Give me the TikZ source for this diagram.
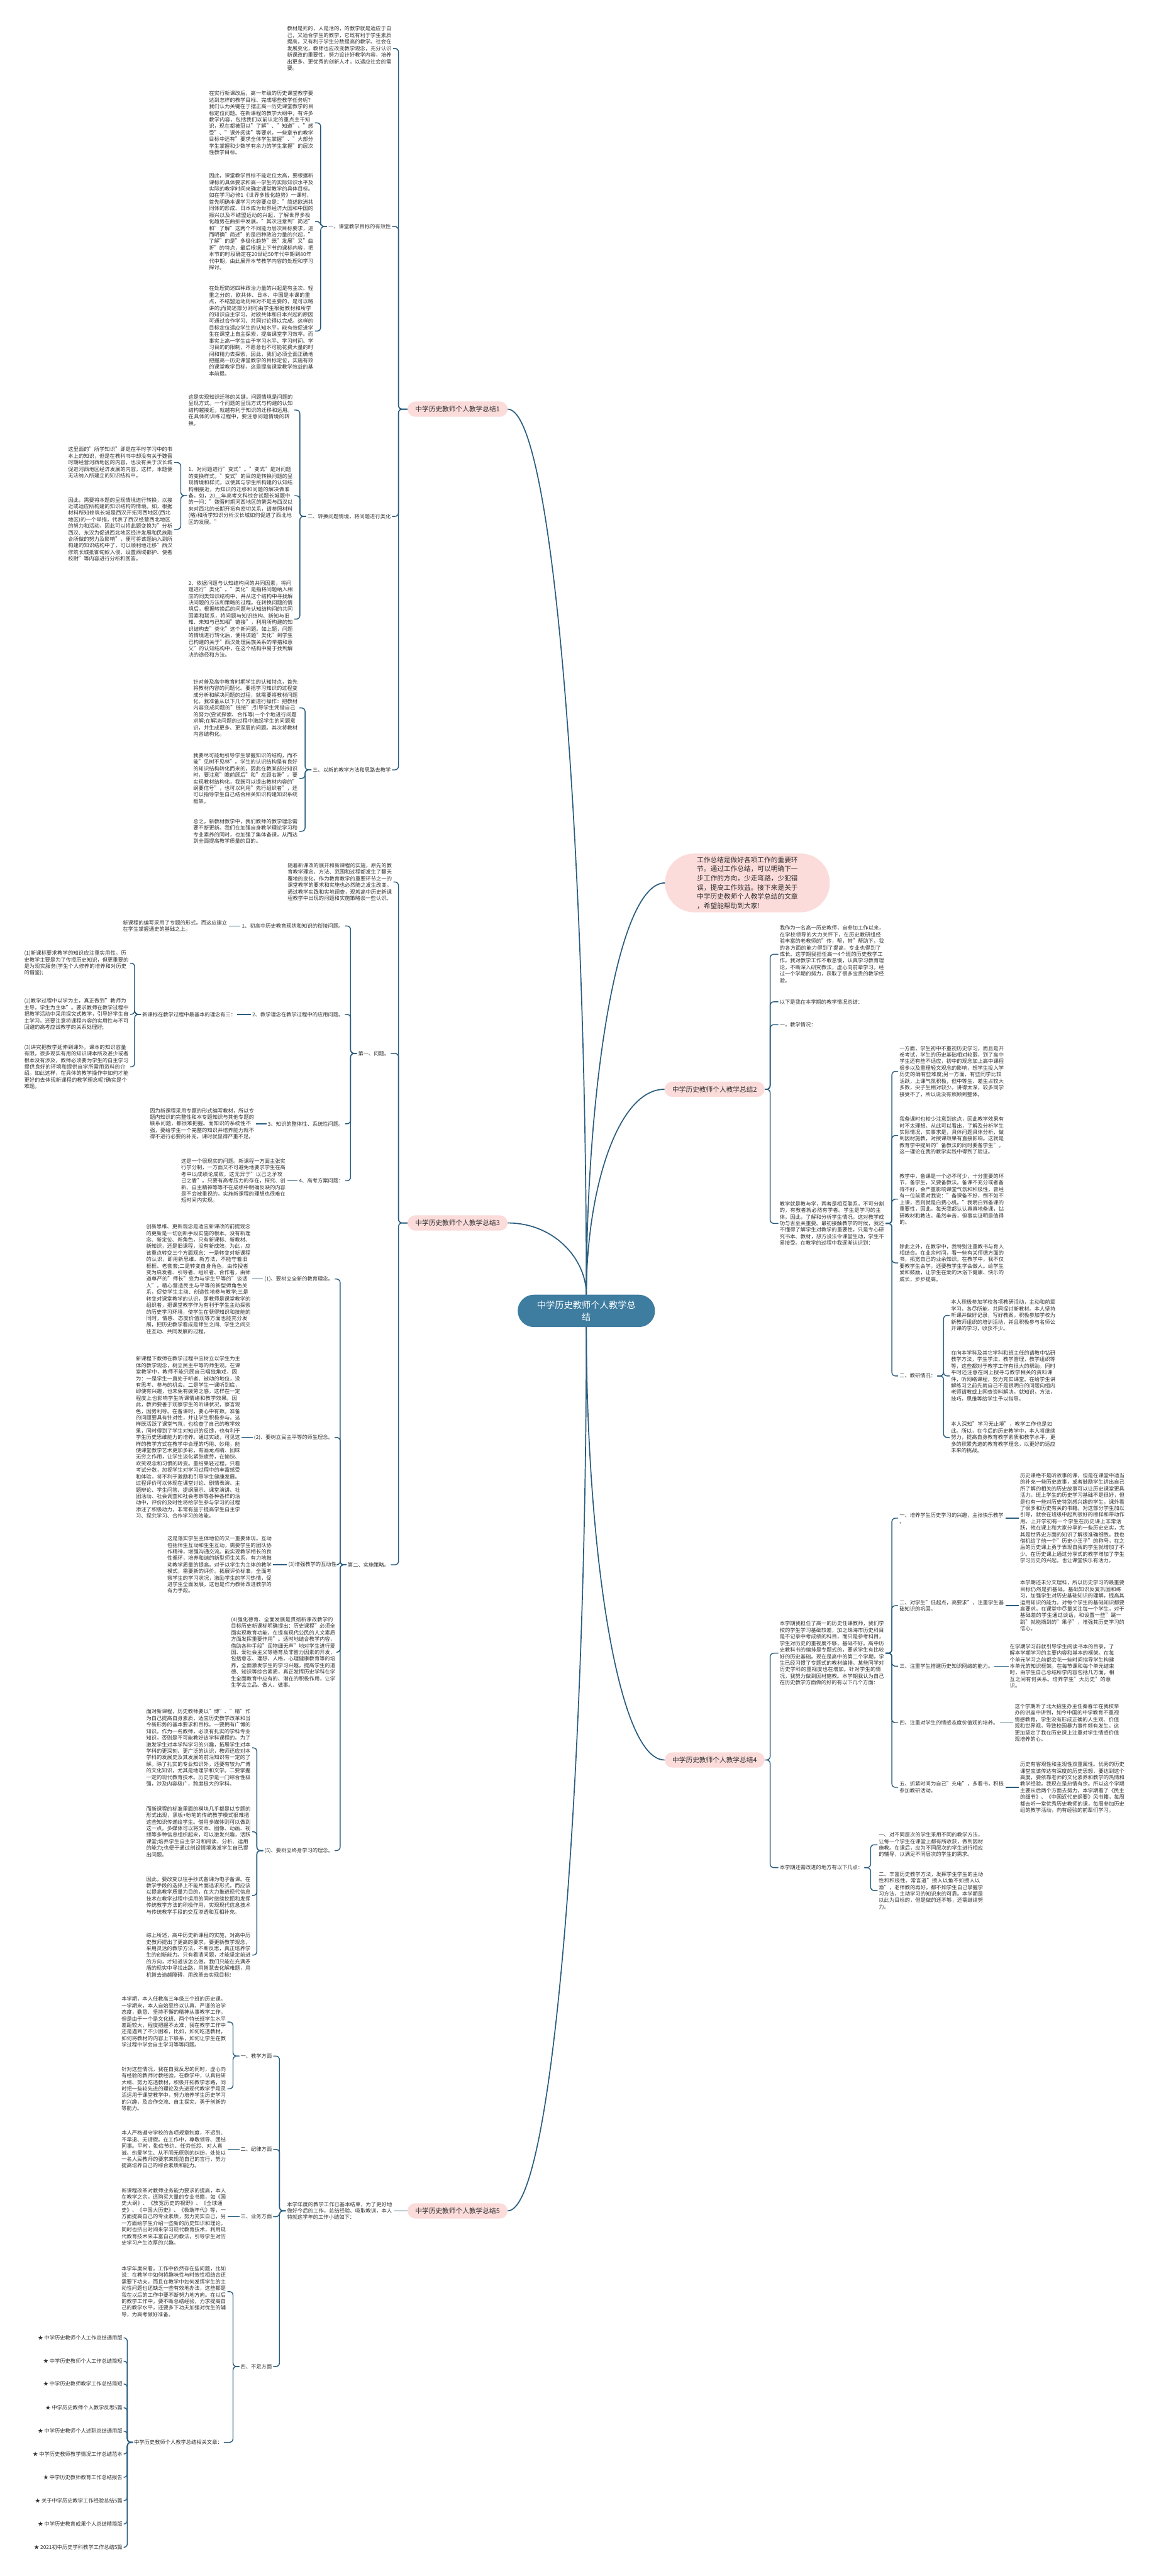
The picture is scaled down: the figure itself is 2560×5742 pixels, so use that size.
\documentclass[tikz,border=0pt]{standalone}
\usepackage{fontspec}
\setmainfont{Noto Sans CJK SC}
\XeTeXlinebreaklocale "zh"
\XeTeXlinebreakskip=0pt plus 1pt
\definecolor{lc}{RGB}{42,93,126}
\definecolor{pk}{RGB}{251,220,218}
\definecolor{cb}{RGB}{62,124,160}
\definecolor{tc}{RGB}{48,48,48}
\tikzset{
  conn/.style={draw=lc, line width=2pt, rounded corners=8pt},
  mainc/.style={draw=lc, line width=2.4pt},
  body/.style={font=\fontsize{11.6}{14.6}\selectfont, text=tc, text width=233pt, align=left, inner sep=0pt, outer sep=3pt},
  lab/.style={font=\fontsize{11.6}{14.6}\selectfont, text=tc, inner sep=0pt, outer sep=3pt},
  bnode/.style={fill=pk, rounded corners=17pt, minimum width=223pt, minimum height=34pt, font=\fontsize{15}{18}\selectfont, text=tc, inner sep=0pt},
  cnode/.style={fill=cb, rounded corners=36pt, minimum width=306pt, minimum height=72pt, text=white, font=\fontsize{20}{26}\selectfont, align=center, inner sep=0pt},
  inode/.style={fill=pk, rounded corners=65pt, minimum width=367pt, minimum height=131pt, text=tc, font=\fontsize{15}{20.5}\selectfont, align=left, inner sep=0pt}
}
\newcommand\bR[3]{\draw[conn] (#1.east) -- ++(#3,0) |- (#2.west);}
\newcommand\bL[3]{\draw[conn] (#1.west) -- ++(-#3,0) |- (#2.east);}
\begin{document}
\begin{tikzpicture}[x=1pt,y=-1pt]
\useasboundingbox (0,0) rectangle (2560,5742);
\fill[white] (0,0) rectangle (2560,5742);
% central and main branches
\node[cnode] (cen) at (1307,2922) {中学历史教师个人教学总\\结};
\node[inode] (intro) at (1666,1968) {工作总结是做好各项工作的重要环\\节。通过工作总结，可以明确下一\\步工作的方向，少走弯路，少犯错\\误，提高工作效益。接下来是关于\\中学历史教师个人教学总结的文章\\，希望能帮助到大家!};
\node[bnode] (b1) at (1020,912) {中学历史教师个人教学总结1};
\node[bnode] (b2) at (1593,2428) {中学历史教师个人教学总结2};
\node[bnode] (b3) at (1020,2726) {中学历史教师个人教学总结3};
\node[bnode] (b4) at (1593,3923) {中学历史教师个人教学总结4};
\node[bnode] (b5) at (1020,4928) {中学历史教师个人教学总结5};
\draw[mainc] (cen.north) .. controls (1307,2427) and (1376,1968) .. (intro.west);
\draw[mainc] (cen.north) .. controls (1307,1899) and (1235,912) .. (b1.east);
\draw[mainc] (cen.north) .. controls (1307,2657) and (1375,2428) .. (b2.west);
\draw[mainc] (cen.north) .. controls (1307,2806) and (1235,2726) .. (b3.east);
\draw[mainc] (cen.south) .. controls (1307,3440) and (1375,3923) .. (b4.west);
\draw[mainc] (cen.south) .. controls (1307,3943) and (1235,4928) .. (b5.east);

% ================= Branch 1 =================
\node[body, anchor=east] (a1) at (876,108) {教材是死的，人是活的，的教学就是适应于自己，又适合学生的教学，它既有利于学生素质提高，又有利于学生分数提高的教学。社会在发展变化，教师也应改变教学观念，充分认识新课改的重要性，努力设计好教学内容，培养出更多、更优秀的创新人才，以适应社会的需要。};
\node[lab, anchor=east] (a2) at (874,505) {一、课堂教学目标的有效性};
\node[body, anchor=east] (a2a) at (702,274) {在实行新课改后，高一年级的历史课堂教学要达到怎样的教学目标、完成哪些教学任务呢？我们认为关键在于摆正高一历史课堂教学的目标定位问题。在新课程的教学大纲中，有许多教学内容，包括我们以前认定的重点主干知识，现在都被冠以"了解"、"知道"、"感受"、"课外阅读"等要求，一些章节的教学目标中还有"要求全体学生掌握"、"大部分学生掌握和少数学有余力的学生掌握"的层次性教学目标。};
\node[body, anchor=east] (a2b) at (702,494) {因此，课堂教学目标不能定位太高，要根据新课标的具体要求和高一学生的实际知识水平及实际的教学时间来确定课堂教学的具体目标。如在学习必修1《世界多极化趋势》一课时，首先明确本课学习内容要点是："简述欧洲共同体的形成、日本成为世界经济大国和中国的振兴以及不结盟运动的兴起，了解世界多极化趋势在曲折中发展。"其次注意到"简述"和"了解"这两个不同能力层次目标要求，进而明确"简述"的是四种政治力量的兴起，"了解"的是"多极化趋势"既"发展"又"曲折"的特点，最后根据上下节的课标内容，把本节的时段确定在20世纪50年代中期到80年代中期，由此展开本节教学内容的处理和学习探讨。};
\node[body, anchor=east] (a2c) at (702,738) {在处理简述四种政治力量的兴起是有主次、轻重之分的，欧共体、日本、中国是本课的重点，不结盟运动则相对不是主要的，是可以略讲的;而简述部分则可由学生根据教材和所学的知识自主学习。对欧共体和日本兴起的原因可通过合作学习、共同讨论得以完成。这样的目标定位适应学生的认知水平，能有效促进学生在课堂上自主探索，提高课堂学习效率。而事实上高一学生由于学习水平、学习时间、学习目的的限制，不愿意也不可能花费大量的时间和精力去探索，因此，我们必须全面正确地把握高一历史课堂教学的目标定位，实施有效的课堂教学目标，这是提高课堂教学效益的基本前提。};
\node[lab, anchor=east] (a3) at (874,1151) {二、转换问题情境，将问题进行类化};
\node[body, anchor=east] (a3a) at (656,914) {这是实现知识迁移的关键。问题情境是问题的呈现方式。一个问题的呈现方式与构建的认知结构越接近，就越有利于知识的迁移和运用。在具体的训练过程中，要注意问题情境的转换。};
\node[body, anchor=east] (a3b) at (656,1105) {1、对问题进行"变式"。"变式"是对问题的变换样式，"变式"的目的是转换问题的呈现情境和样式，以使其与学生所构建的认知结构相接近，为知识的迁移和问题的解决做准备。如，20\_\_年高考文科综合试题长城题中的一问："魏晋时期河西地区的繁荣与西汉以来对西北的长期开拓有密切关系，请参照材料(略)和所学知识分析汉长城如何促进了西北地区的发展。"};
\node[body, anchor=east] (a3b1) at (388,1031) {这里面的"所学知识"即是在平时学习中的书本上的知识，但是在教科书中却没有关于魏晋时期经营河西地区的内容，也没有关于汉长城促进河西地区经济发展的内容，这样，本题便无法纳入所建立的知识结构中。};
\node[body, anchor=east] (a3b2) at (388,1180) {因此，需要将本题的呈现情境进行转换，以接近或适应所构建的知识结构的情境。如，根据材料所知修筑长城是西汉开拓河西地区(西北地区)的一个举措，代表了西汉经营西北地区的努力和活动，因此可以将此题变换为"分析西汉、东汉为促进西北地区经济发展和民族融合所做的努力及影响"，便可将该题纳入到所构建的知识结构中了，可以顺利地迁移"西汉修筑长城抵御匈奴入侵、设置西域都护、使者校尉"等内容进行分析和回答。};
\node[body, anchor=east] (a3c) at (656,1380) {2、依据问题与认知结构间的共同因素，将问题进行"类化"。"类化"是指将问题纳入相应的同类知识结构中，并从这个结构中寻找解决问题的方法和策略的过程。在转换问题的情境后，根据转换后的问题与认知结构间的共同因素和联系，将问题与知识结构、新知与旧知、未知与已知相"链接"，利用所构建的知识结构去"类化"这个新问题。如上题，问题的情境进行转化后，便将该题"类化"到学生已构建的关于"西汉处理民族关系的举措和意义"的认知结构中，在这个结构中易于找到解决的途径和方法。};
\node[lab, anchor=east] (a4) at (874,1716) {三、以新的教学方法和思路去教学};
\node[body, anchor=east] (a4a) at (667,1578) {针对普及高中教育时期学生的认知特点，首先将教材内容的问题化。要把学习知识的过程变成分析和解决问题的过程，就需要将教材问题化。我准备从以下几个方面进行操作：把教材内容变成问题的"链接";引导学生凭借自己的努力(尝试探索、合作等)一个个地进行问题求解;在解决问题的过程中激起学生的问题意识，并生成更多、更深层的问题。其次将教材内容结构化。};
\node[body, anchor=east] (a4b) at (667,1735) {我要尽可能地引导学生掌握知识的结构，而不能"见树不见林"。学生的认识结构是有良好的知识结构转化而来的，因此在教某部分知识时，要注意"瞻前顾后"和"左顾右盼"。要实现教材结构化，我既可以提出教材内容的"纲要信号"，也可以利用"先行组织者"，还可以指导学生自己结合相关知识构建知识系统框架。};
\node[body, anchor=east] (a4c) at (667,1853) {总之，新教材教学中，我们教师的教学理念需要不断更新。我们在加强自身教学理论学习和专业素养的同时，也加强了集体备课，从而达到全面提高教学质量的目的。};
\foreach \c in {a1,a2,a3,a4}{\bL{b1}{\c}{20}}
\foreach \c in {a2a,a2b,a2c}{\bL{a2}{\c}{14}}
\foreach \c in {a3a,a3b,a3c}{\bL{a3}{\c}{14}}
\foreach \c in {a3b1,a3b2}{\bL{a3b}{\c}{14}}
\foreach \c in {a4a,a4b,a4c}{\bL{a4}{\c}{14}}

% ================= Branch 3 =================
\node[body, anchor=east] (c1) at (877,1966) {随着新课改的展开和新课程的实施，原先的教育教学理念、方法、范围和过程都发生了翻天覆地的变化，作为教育教学的重要环节之一的课堂教学的要求和实施也必然随之发生改变。通过教学实践和实地调查，现就高中历史新课程教学中出现的问题和实施策略谈一些认识。};
\node[lab, anchor=east] (c2) at (871,2348) {第一、问题。};
\node[lab, anchor=east] (c21) at (769,2064) {1、初高中历史教育现状和知识的衔接问题。};
\node[body, anchor=east] (c21a) at (510,2064) {新课程的编写采用了专题的形式。而这应建立在学生掌握通史的基础之上。};
\node[lab, anchor=east] (c22) at (769,2261) {2、教学理念在教学过程中的应用问题。};
\node[lab, anchor=east] (c22a) at (529,2261) {新课标在教学过程中最基本的理念有三：};
\node[body, anchor=east] (c22a1) at (290,2147) {(1)新课标要求教学的知识应注重实用性。历史教学主要是为了传授历史知识，但更重要的是为现实服务(学生个人修养的培养和对历史的借鉴);};
\node[body, anchor=east] (c22a2) at (290,2261) {(2)教学过程中以学为主，真正做到"教师为主导，学生为主体"。要求教师在教学过程中把教学活动中采用探究式教学，引导好学生自主学习。还要注意将课程内容的实用性与不可回避的高考应试教学的关系处理好;};
\node[body, anchor=east] (c22a3) at (290,2378) {(3)讲究把教学延伸到课外。课本的知识容量有限，很多现实有用的知识课本所及甚少或者根本没有涉及，教师必须要为学生的自主学习提供良好的环境和提供自学所需用资料的介绍。如此这样，在具体的教学操作中如何才能更好的去体现新课程的教学理念呢?确实是个难题。};
\node[lab, anchor=east] (c23) at (769,2505) {3、知识的整体性、系统性问题。};
\node[body, anchor=east] (c23a) at (570,2505) {因为新课程采用专题的形式编写教材，所以专题内知识的完整性和本专题知识与其他专题的联系问题，都很难把握。而知识的系统性不强，要给学生一个完整的知识并培养能力就不得不进行必要的补充，课时就显得严重不足。};
\node[lab, anchor=east] (c24) at (769,2632) {4、高考方案问题：};
\node[body, anchor=east] (c24a) at (640,2632) {这是一个很现实的问题。新课程一方面主张实行学分制，一方面又不可避免地要求学生在高考中以成绩论成败，这无异于"以己之矛攻己之盾"。只要有高考压力的存在，探究、创新、自主精神等等不在成绩中明确反映的内容是不会被重视的，实施新课程的理想也很难在短时间内实现。};
\node[lab, anchor=east] (c3) at (871,3488) {第二、实施策略。};
\node[lab, anchor=east] (c31) at (746,2851) {(1)、要树立全新的教育理念。};
\node[body, anchor=east] (c31a) at (562,2851) {创新思维、更新观念是适应新课改的前提观念的更新是一切创新手段实施的根本。没有新理念、新定位、新角色，只有新课标、新教材、新知识，还是旧课程，没有新成效。为此，应该重点转变三个方面观念：一是转变对新课程的认识，即用新思维、新方法，不能守着旧框框、老套套;二是转变自身角色，由传授者变为启发者、引导者、组织者、合作者，由师道尊严的"师长"变为与学生平等的"谈话人"，精心营造民主与平等的新型师角色关系，促使学生主动、创造性地参与教学;三是转变对课堂教学的认识，即教师是课堂教学的组织者，把课堂教学作为有利于学生主动探索的历史学习环境，使学生在获得知识和技能的同时，情感、态度价值观等方面也能充分发展，把历史教学看成是师生之间、学生之间交往互动、共同发展的过程。};
\node[lab, anchor=east] (c32) at (746,3204) {(2)、要树立民主平等的师生理念。};
\node[body, anchor=east] (c32a) at (539,3204) {新课程下教师在教学过程中应树立以学生为主体的教学观念，树立民主平等的师生观。在课堂教学中，教师不能只顾自己唱独角戏，因为：一是学生一直处于听者、被动的地位，没有思考、参与的机会。二是学生一课听到底，即使有兴趣，也未免有疲劳之感，这样在一定程度上也影响学生听课情绪和教学效果。因此，教师要善于观察学生的听课状况，察言观色，因势利导。在备课时，要心中有数。准备的问题要具有针对性，并让学生积极参与。这样既活跃了课堂气氛，也检查了自己的教学效果，同时得到了学生对知识的反馈，也有利于学生历史思维能力的培养。通过实践，可见这样的教学方式在教学中合理的巧用、妙用，能使课堂教学艺术更加多彩，有画龙点睛、回味无穷之作用，让学生淡化紧张疲劳，在愉快、欢笑观念和习惯的转变。重结果轻过程，只看考试分数，忽视学生对学习过程中的丰富感受和体验，将不利于激励和引导学生健康发展。过程评价可以体现在课堂讨论、剧情表演、主题辩论、学生问答、提纲展示、课堂演讲、社团活动、社会调查和社会考察等各种各样的活动中，评价的及时性将给学生参与学习的过程添注了积极动力，非常有益于提高学生自主学习、探究学习、合作学习的效能。};
\node[lab, anchor=east] (c33) at (753,3488) {(3)增强教学的互动性};
\node[body, anchor=east] (c33a) at (609,3488) {这是落实学生主体地位的又一重要体现。互动包括师生互动和生生互动，需要学生的团队协作精神，增强沟通交流。能实现教学相长的良性循环，培养和谐的新型师生关系，有力地推动教学质量的提高。对于以学生为主体的教学模式，需要新的评价。拓展评价标准，全面考察学生的学习状况，激励学生的学习热情，促进学生全面发展，这也是作为教师改进教学的有力手段。};
\node[body, anchor=east] (c34) at (751,3683) {(4)强化德育、全面发展是贯彻新课改教学的目标历史新课标明确提出：历史课程"必须全面实现教育功能，在提高现代公民的人文素质方面发挥重要作用"。适时地结合教学内容，借助各种手段"润物细无声"地对学生进行爱国、爱社会主义等德育及非智力因素的开发，包括意志、理想、人格，心理健康教育等的培养，全面激发学生的学习兴趣，提高学生的道德、知识等综合素质，真正发挥历史学科在学生全面教育中应有的、潜在的积极作用，让学生学会立品、做人、做事。};
\node[lab, anchor=east] (c35) at (746,4125) {(5)、要树立终身学习的理念。};
\node[body, anchor=east] (c35a) at (562,3896) {面对新课程，历史教师要以"博"、"精"作为自己提高自身素质，适应历史教学改革和当今新形势的基本要求和目标。一要拥有广博的知识。作为一名教师，必须有扎实的学科专业知识，否则是不可能教好该学科课程的。为了激发学生对本学科学习的兴趣，拓展学生对本学科的更深刻、更广泛的认识，教师还应对本学科的发展史及其发展的前沿知识有一定的了解。除了扎实的专业知识外，还要有较为广博的文化知识，尤其是地理学和文学。二要掌握一定的现代教育技术。历史学是一门综合性极强，涉及内容极广，跨度极大的学科。};
\node[body, anchor=east] (c35b) at (562,4083) {而新课程的标准里面的模块几乎都是以专题的形式出现，黑板+粉笔的传统教学模式很难把这些知识传递给学生。借用多媒体则可以做到这一点。多媒体可以将文本、图像、动画、视频等多种信息组织起来，可以激发兴趣，活跃课堂;培养学生自主学习和阅读、分析、运用的能力;也便于通过创设情境激发学生自已提出问题。};
\node[body, anchor=east] (c35c) at (562,4225) {因此，要改变以往手抄式备课为电子备课。在教学手段的选择上不能片面追求形式，而应该以提高教学质量为目的，在大力推进现代信息技术在教学过程中运用的同时继续挖掘和发挥传统教学方法的积极作用，实现现代信息技术与传统教学手段的交互渗透和互相补充。};
\node[body, anchor=east] (c35d) at (562,4358) {综上所述，高中历史新课程的实施，对高中历史教师提出了更高的要求。要更新教学观念，采用灵活的教学方法，不断反思，真正培养学生的创新能力。只有看清问题，才能坚定前进的方向，才知道该怎么做。我们只能在充满矛盾的现实中寻找出路，用智慧去化解难题，用机智去逾越障碍，用改革去实现目标!};
\foreach \c in {c1,c2,c3}{\bL{b3}{\c}{20}}
\foreach \c in {c21,c22,c23,c24}{\bL{c2}{\c}{14}}
\draw[conn] (c21.west) -- (c21a.east);
\draw[conn] (c22.west) -- (c22a.east);
\draw[conn] (c23.west) -- (c23a.east);
\draw[conn] (c24.west) -- (c24a.east);
\foreach \c in {c22a1,c22a2,c22a3}{\bL{c22a}{\c}{14}}
\foreach \c in {c31,c32,c33,c34,c35}{\bL{c3}{\c}{14}}
\draw[conn] (c31.west) -- (c31a.east);
\draw[conn] (c32.west) -- (c32a.east);
\draw[conn] (c33.west) -- (c33a.east);
\foreach \c in {c35a,c35b,c35c,c35d}{\bL{c35}{\c}{14}}

% ================= Branch 5 =================
\node[body, anchor=east, text width=236pt] (e1) at (879,4928) {本学年度的教学工作已基本结束，为了更好地做好今后的工作，总结经验、吸取教训，本人特就这学年的工作小结如下：};
\node[lab, anchor=east] (e11) at (609,4583) {一、教学方面};
\node[body, anchor=east] (e11a) at (507,4507) {本学期，本人任教高三年级三个班的历史课。一学期来，本人自始至终以认真、严谨的治学态度，勤恳、坚持不懈的精神从事教学工作。但是由于一个是文化班、两个特长班学生水平差距较大，程度把握不太准，我在教学工作中还是遇到了不少困难，比如，如何吃透教材，如何将教材的内容上下联系，如何让学生在教学过程中学会自主学习等等问题。};
\node[body, anchor=east] (e11b) at (507,4656) {针对这些情况，我在自我反思的同时，虚心向有经验的教师讨教经验。在教学中，认真钻研大纲、努力吃透教材，积极开拓教学思路，同时把一些较先进的理论及先进现代教学手段灵活运用于课堂教学中，努力培养学生历史学习的兴趣，及合作交流、自主探究、勇于创新的等能力。};
\node[lab, anchor=east] (e12) at (609,4791) {二、纪律方面};
\node[body, anchor=east] (e12a) at (507,4791) {本人严格遵守学校的各项规章制度，不迟到、不早退、无请假。在工作中，尊敬领导、团结同事。平时，勤俭节约、任劳任怨、对人真诚、热爱学生、从不闹无原则的纠纷，处处以一名人民教师的要求来规范自己的言行，努力提高培养自己的综合素质和能力。};
\node[lab, anchor=east] (e13) at (609,4941) {三、业务方面};
\node[body, anchor=east] (e13a) at (507,4941) {新课程改革对教师业务能力要求的提高，本人在教学之余，还购买大量的专业书籍，如《国史大纲》、《放宽历史的视野》、《全球通史》、《中国大历史》、《极端年代》等，一方面提高自己的专业素质，努力充实自己，另一方面给学生介绍一些新的历史知识和理论。同时也挤出时间来学习现代教育技术，利用现代教育技术来丰富自己的教法，引导学生对历史学习产生浓厚的兴趣。};
\node[lab, anchor=east] (e14) at (609,5275) {四、不足方面};
\node[body, anchor=east] (e14a) at (507,5108) {本学年度来看，工作中依然存在些问题，比如说：在教学中如何将趣味性与时效性相结合还需要下功夫，而且在教学中如何发挥学生的主动性问题也还缺乏一些有效地办法，这些都是我在以后的工作中要不断努力地方向。在以后的教学工作中，要不断总结经验，力求提高自己的教学水平，还要多下功夫加强对优生的辅导，为高考做好准备。};
\node[lab, anchor=east] (e14b) at (499,5444) {中学历史教师个人教学总结相关文章：};
\node[lab, anchor=east] (l1) at (276,5211) {★ 中学历史教师个人工作总结通用版};
\node[lab, anchor=east] (l2) at (276,5263) {★ 中学历史教师个人工作总结简短};
\node[lab, anchor=east] (l3) at (276,5314) {★ 中学历史教师教学工作总结简短};
\node[lab, anchor=east] (l4) at (276,5367) {★ 中学历史教师个人教学反思5篇};
\node[lab, anchor=east] (l5) at (276,5419) {★ 中学历史教师个人述职总结通用版};
\node[lab, anchor=east] (l6) at (276,5470) {★ 中学历史教师教学情况工作总结范本};
\node[lab, anchor=east] (l7) at (276,5522) {★ 中学历史教师教育工作总结报告};
\node[lab, anchor=east] (l8) at (276,5574) {★ 关于中学历史教学工作经验总结5篇};
\node[lab, anchor=east] (l9) at (276,5626) {★ 中学历史教育成果个人总结精简版};
\node[lab, anchor=east] (l10) at (276,5678) {★ 2021初中历史学科教学工作总结5篇};
\draw[conn] (b5.west) -- (e1.east);
\foreach \c in {e11,e12,e13,e14}{\bL{e1}{\c}{14}}
\foreach \c in {e11a,e11b}{\bL{e11}{\c}{14}}
\draw[conn] (e12.west) -- (e12a.east);
\draw[conn] (e13.west) -- (e13a.east);
\foreach \c in {e14a,e14b}{\bL{e14}{\c}{14}}
\foreach \c in {l1,l2,l3,l4,l5,l6,l7,l8,l9,l10}{\bL{e14b}{\c}{12}}

% ================= Branch 2 =================
\node[body, anchor=west] (d1) at (1735,2127) {我作为一名高一历史教师，自参加工作以来，在学校领导的大力关怀下，在历史教研组经验丰富的老教师的"传，帮，带"帮助下，我的各方面的能力得到了提高，专业也得到了成长。这学期我担任高一4个班的历史教学工作。我对教学工作不敢怠慢，认真学习教育理论，不断深入研究教法，虚心向前辈学习。经过一个学期的努力，获取了很多宝贵的教学经验。};
\node[lab, anchor=west] (d2) at (1735,2233) {以下是我在本学期的教学情况总结：};
\node[lab, anchor=west] (d3) at (1735,2284) {一，教学情况：};
\node[body, anchor=west] (d4) at (1735,2727) {教学就是教与学，两者是相互联系，不可分割的，有教者就必然有学者。学生是学习的主体。因此，了解和分析学生情况，这对教学成功与否至关重要。最初接触教学的时候，我还不懂得了解学生对教学的重要性，只是专心研究书本、教材，想方设法令课堂生动，学生不易接受。在教学的过程中我逐渐认识到：};
\node[body, anchor=west] (d41) at (2002,2388) {一方面，学生初中不重视历史学习，而且是开卷考试，学生的历史基础相对较弱，到了高中学生还有些不适应，初中的观念加上高中课程很多以及重理轻文观念的影响，想学生投入学历史的确有些难度;另一方面，有些同学比较活跃，上课气氛积极，但中等生、差生占较大多数，尖子生相对较少。讲得太深，较多同学接受不了，所以说没有照顾到整体。};
\node[body, anchor=west] (d42) at (2002,2531) {我备课时也较少注意到这点，因此教学效果有时不太理想。从此可以看出，了解及分析学生实际情况，实事求是，具体问题具体分析，做到因材施教，对授课效果有直接影响。这就是教育学中提到的"备教法的同时要备学生"。这一理论在我的教学实践中得到了验证。};
\node[body, anchor=west] (d43) at (2002,2673) {教学中，备课是一个必不可少，十分重要的环节，备学生，又要备教法。备课不充分或者备得不好，会严重影响课堂气氛和积极性，曾经有一位前辈对我说："备课备不好，倒不如不上课，否则就是白费心机。"我明白到备课的重要性，因此，每天我都认认真真地备课，钻研教材和教法。虽然辛苦，但事实证明是值得的。};
\node[body, anchor=west] (d44) at (2002,2815) {除此之外，在教学中，我特别注重教书与育人相结合。在业余时间，看一些有关师德方面的书，拓宽自己的业余知识。在教学中，我不仅要教学生会学，还要教学生学会做人。给学生爱和鼓励，让学生在爱的沐浴下健康、快乐的成长，步步提高。};
\node[lab, anchor=west] (d45) at (2002,3067) {二、教研情况：};
\node[body, anchor=west] (d451) at (2117,2932) {本人积极参加学校各项教研活动，主动和前辈学习，各尽所能，共同探讨新教材。本人坚持听课并做好记录，写好教案。积极参加学校为新教师组织的培训活动，并且积极参与名师公开课的学习，收获不少。};
\node[body, anchor=west] (d452) at (2117,3067) {在向本学科及其它学科和班主任的请教中钻研教学方法，学生学法，教学管理，教学组织等等，这些都对于教学工作有很大的帮助。同时平时还注意在网上搜寻与教学相关的资料课件，听网络课程，努力充实课堂。在给学生讲解练习之前先就自己不是很明白的问题向组内老师请教或上网查资料解决，就知识，方法，技巧，思维等给学生予以指导。};
\node[body, anchor=west] (d453) at (2117,3204) {本人深知"学习无止境"，教学工作也是如此。所以，在今后的历史教学中，本人将继续努力，提高自身教育教学素质和教学水平，更多的积累先进的教育教学理念，以更好的适应未来的挑战。};
\foreach \c in {d1,d2,d3,d4}{\bR{b2}{\c}{12}}
\foreach \c in {d41,d42,d43,d44,d45}{\bR{d4}{\c}{14}}
\foreach \c in {d451,d452,d453}{\bR{d45}{\c}{14}}

% ================= Branch 4 =================
\node[body, anchor=west] (f1) at (1735,3685) {本学期我担任了高一的历史任课教师，我们学校的学生学习基础较差，加之珠海市历史科目是不记录中考成绩的科目，而只是参考科目，学生对历史的重视度不够，基础不好。高中历史教科书的编排是专题式的，要求学生有比较好的历史基础。现在是高中的第二个学期，学生已经习惯了专题式的教材编排。某些同学对历史学科的重视度也在增加。针对学生的情况，我努力做到因材施教。本学期我认为自己在历史教学方面做的好的有以下几个方面：};
\node[body, anchor=west] (f11) at (2002,3384) {一、培养学生历史学习的兴趣，主张快乐教学\\。};
\node[body, anchor=west] (f11a) at (2271,3384) {历史课绝不是听故事的课，但是在课堂中适当的补充一些历史故事，或者鼓励学生讲出自己所了解的相关的历史故事可以让历史课堂更具活力。班上学生的历史学习基础不是很好，但是也有一些对历史特别感兴趣的学生，课外看了很多和历史有关的书籍。对这部分学生加以引导，就会在班级中起到很好的榜样和带动作用。上开学初有一个学生在历史课上非常活跃，他在课上和大家分享的一些历史史实，尤其是世界史方面的知识了解很准确细致。我也借机给了他一个"历史小王子"的称号，在之后的历史课上勇于表现自我的学生就增加了不少。在历史课上通过分享式的教学增加了学生学习历史的兴起，也让课堂快乐有活力。};
\node[body, anchor=west] (f12) at (2002,3579) {二、对学生"低起点，高要求"，注重学生基础知识的巩固。};
\node[body, anchor=west] (f12a) at (2271,3579) {本学期还未分文理科，所以历史学习的最重要目标仍然是抓基础。基础知识反复巩固和练习，加强学生对历史基础知识的理解，提高其运用知识的能力。对每个学生的基础知识都要高要求。在课堂中尽量关注每一个学生，对于基础差的学生通过谈话，和设置一些"跳一跳"就能摘到的"果子"，增强其历史学习的信心。};
\node[lab, anchor=west] (f13) at (2002,3714) {三、注重学生搭建历史知识网络的能力。};
\node[body, anchor=west] (f13a) at (2248,3714) {在学期学习前就引导学生阅读书本的目录，了解本学期学习的主要内容和基本的框架。在每个单元学习之前都会花一些时间指导学生构建本单元的知识框架。在每节课和每个单元结束时，由学生自己总结所学内容包括几方面，相互之间有何关系。培养学生"大历史"的意识。};
\node[lab, anchor=west] (f14) at (2002,3840) {四、注重对学生的情感态度价值观的培养。};
\node[body, anchor=west] (f14a) at (2259,3840) {这个学期听了北大招生办主任秦春华在我校举办的讲座中讲到，如今中国的中学教育不重视情感教育，学生没有形成正确的人生观、价值观和世界观，导致校园暴力事件频有发生。这更加坚定了我在历史课上注重对学生情感价值观培养的心。};
\node[body, anchor=west] (f15) at (2002,3984) {五、抓紧时间为自己"充电"，多看书，积极参加教研活动。};
\node[body, anchor=west] (f15a) at (2271,3984) {历史有客观性和主观性双重属性。优秀的历史课堂应该传达有深度的历史思想，要达到这个高度，要依靠老师的文化素养和教学的热情和教学经验。我现在是热情有余。所以这个学期主要从后两个方面去努力，本学期看了《民主的细节》、《中国近代史纲要》风书籍，每周都去听一堂优秀历史教师的课，每周参加历史组的教学活动，向有经验的前辈们学习。};
\node[lab, anchor=west] (f2) at (1735,4163) {本学期还需改进的地方有以下几点：};
\node[body, anchor=west] (f21) at (1956,4112) {一、对不同层次的学生采用不同的教学方法，让每一个学生在课堂上都有所收获，做到因材施教。在课后，应为不同层次的学生进行相应的辅导，以满足不同层次的学生的需求。};
\node[body, anchor=west] (f22) at (1956,4214) {二、丰富历史教学方法，发挥学生学生的主动性和积极性。常言道"授人以鱼不如授人以渔"，老师教的再好，都不如学生自己掌握学习方法，主动学习的知识来的可靠。本学期是以此为目标的，但是做的还不够，还需继续努力。};
\foreach \c in {f1,f2}{\bR{b4}{\c}{12}}
\foreach \c in {f11,f12,f13,f14,f15}{\bR{f1}{\c}{14}}
\draw[conn] (f11.east) -- (f11a.west);
\draw[conn] (f12.east) -- (f12a.west);
\draw[conn] (f13.east) -- (f13a.west);
\draw[conn] (f14.east) -- (f14a.west);
\draw[conn] (f15.east) -- (f15a.west);
\foreach \c in {f21,f22}{\bR{f2}{\c}{14}}
\end{tikzpicture}
\end{document}
